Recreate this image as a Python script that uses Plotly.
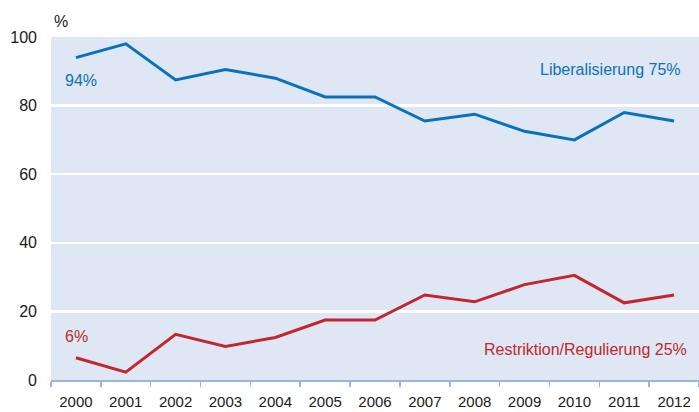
import plotly.graph_objects as go

years = ["2000", "2001", "2002", "2003", "2004", "2005", "2006", "2007", "2008", "2009", "2010", "2011", "2012"]
liberalisierung = [94, 98, 87.5, 90.5, 88, 82.5, 82.5, 75.5, 77.5, 72.5, 70, 78, 75.5]
restriktion = [6.5, 2.3, 13.3, 9.8, 12.4, 17.5, 17.5, 24.8, 22.8, 27.8, 30.5, 22.5, 24.8]
y_ticks = [0, 20, 40, 60, 80, 100]

BLUE = "#0a72ba"
RED = "#c1272d"
FONT = "Liberation Sans, Arial, sans-serif"

fig = go.Figure()
fig.add_trace(go.Scatter(x=years, y=liberalisierung, mode="lines",
                         line=dict(color=BLUE, width=3), hoverinfo="skip"))
fig.add_trace(go.Scatter(x=years, y=restriktion, mode="lines",
                         line=dict(color=RED, width=3), hoverinfo="skip"))

fig.update_layout(
    width=699, height=412,
    margin=dict(l=51, r=0, t=37, b=32),
    paper_bgcolor="white",
    plot_bgcolor="#dfe7f4",
    showlegend=False,
    hovermode=False,
    font=dict(family=FONT, size=15, color="#1a1a1a"),
    xaxis=dict(type="category", showgrid=False, zeroline=False,
               showline=True, linecolor="#9ab5de", linewidth=1.5,
               ticks="outside", tickson="boundaries", ticklen=5,
               tickcolor="#9ab5de", tickwidth=1.5, ticklabelstandoff=7,
               tickfont=dict(size=15, family=FONT, color="#1a1a1a"),
               range=[-0.5, 12.5], fixedrange=True),
    yaxis=dict(range=[0, 100], tickvals=y_ticks, showgrid=True,
               gridcolor="white", gridwidth=2.5, zeroline=False,
               showline=False, ticks="", ticklabelstandoff=13,
               tickfont=dict(size=16, family=FONT, color="#1a1a1a"),
               fixedrange=True),
)

fig.add_annotation(text="%", xref="paper", yref="paper", x=0.0, y=1.0,
                   xanchor="left", yanchor="bottom", xshift=1, yshift=5,
                   showarrow=False, font=dict(size=16, family=FONT, color="#1a1a1a"))
fig.add_annotation(text="94%", x=0, y=liberalisierung[0], xanchor="left",
                   yanchor="middle", xshift=-13, yshift=-23, showarrow=False,
                   font=dict(size=16, family=FONT, color=BLUE))
fig.add_annotation(text="6%", x=0, y=restriktion[0], xanchor="left",
                   yanchor="middle", xshift=-13, yshift=21, showarrow=False,
                   font=dict(size=16, family=FONT, color=RED))
fig.add_annotation(text="Liberalisierung 75%", xref="paper", x=0.975, y=90.5,
                   xanchor="right", yanchor="middle", showarrow=False,
                   font=dict(size=16, family=FONT, color=BLUE))
fig.add_annotation(text="Restriktion/Regulierung 25%", xref="paper", x=0.985, y=9,
                   xanchor="right", yanchor="middle", showarrow=False,
                   font=dict(size=16, family=FONT, color=RED))

fig.write_html("out.html", config={"displayModeBar": False, "staticPlot": True})
with open("out.html", "r", encoding="utf-8") as f:
    html = f.read()
html = html.replace("<head>", "<head><style>html,body{margin:0;padding:0;overflow:hidden;}</style>", 1)
with open("out.html", "w", encoding="utf-8") as f:
    f.write(html)
